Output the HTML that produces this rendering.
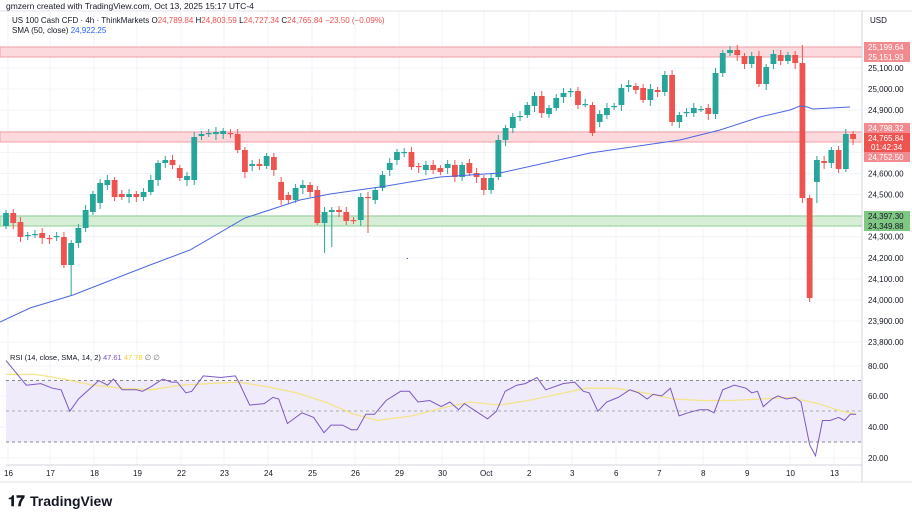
<!DOCTYPE html>
<html><head><meta charset="utf-8"><style>
html,body{margin:0;padding:0;background:#fff;width:912px;height:513px;overflow:hidden}
svg text{font-family:"Liberation Sans",sans-serif}
</style></head><body>
<svg id="s" width="912" height="513" xmlns="http://www.w3.org/2000/svg">
<rect width="912" height="513" fill="#fff"/>
<text x="6" y="9" font-size="8.5" fill="#131722">gmzern created with TradingView.com, Oct 13, 2025 15:17 UTC-4</text>
<g id="grid"></g>
<rect x="0" y="47" width="862" height="10" fill="#fbd9dc" stroke="#f0a0a6" stroke-width="1"/>
<rect x="0" y="132" width="862" height="10" fill="#fbd9dc" stroke="#f0a0a6" stroke-width="1"/>
<rect x="0" y="216" width="862" height="10" fill="#d6eed6" stroke="#8fcf94" stroke-width="1"/>
<g id="candles"></g>
<polyline id="sma" fill="none" stroke="#4b67e0" stroke-width="1"/>
<text x="406" y="259" font-size="9" fill="#131722">.</text>
<rect x="6" y="380.5" width="856" height="61.5" fill="#efebfb"/>
<line x1="6" x2="862" y1="380.5" y2="380.5" stroke="#888" stroke-dasharray="3,3"/>
<line x1="6" x2="862" y1="411" y2="411" stroke="#aaa" stroke-dasharray="3,3"/>
<line x1="6" x2="862" y1="442" y2="442" stroke="#888" stroke-dasharray="3,3"/>
<polyline id="rsisma" fill="none" stroke="#f5e48a" stroke-width="1.3"/>
<polyline id="rsi" fill="none" stroke="#7e57c2" stroke-width="1"/>
<line x1="862" x2="862" y1="11" y2="482" stroke="#d1d4dc"/>
<line x1="0" x2="912" y1="11" y2="11" stroke="#e0e3eb"/>
<line x1="6" x2="862" y1="465" y2="465" stroke="#d1d4dc"/>
<line x1="0" x2="912" y1="482" y2="482" stroke="#e0e3eb"/>
<text x="12" y="23" font-size="8" fill="#131722">US 100 Cash CFD · 4h · ThinkMarkets <tspan fill="#131722">O</tspan><tspan fill="#ef5350">24,789.84</tspan> H<tspan fill="#ef5350">24,803.59</tspan> L<tspan fill="#ef5350">24,727.34</tspan> C<tspan fill="#ef5350">24,765.84</tspan> <tspan fill="#ef5350">−23.50 (−0.09%)</tspan></text>
<text x="12" y="33" font-size="8" fill="#131722">SMA (50, close) <tspan fill="#2962ff">24,922.25</tspan></text>
<text x="10" y="360" font-size="7.5" fill="#131722">RSI (14, close, SMA, 14, 2) <tspan fill="#7e57c2">47.61</tspan> <tspan fill="#f2d43a">47.78</tspan> <tspan fill="#777">∅ ∅</tspan></text>
<text x="870" y="23" font-size="8" fill="#131722">USD</text>
<g id="axis" font-size="8" fill="#131722"></g>
<g id="dates" font-size="8" fill="#131722"></g>
<text x="8" y="506" font-size="15" font-weight="bold" fill="#131722">𝟏𝟕</text>
<text x="30" y="506" font-size="14" font-weight="bold" fill="#131722">TradingView</text>
</svg>
<script>
var NS="http://www.w3.org/2000/svg";
function el(t,a,p){var e=document.createElementNS(NS,t);for(var k in a)e.setAttribute(k,a[k]);(p||document.getElementById('s')).appendChild(e);return e;}
var yp=function(p){return 68+(25100-p)*0.2109;};
var grid=document.getElementById('grid');
var dx=[8,50,94,137,181,224,268,312,355,399,442,484,529,572,616,659,703,747,790,834];
var dl=["16","17","18","19","22","23","24","25","26","29","30","Oct","2","3","6","7","8","9","10","13"];
dx.forEach(function(x){el('line',{x1:x,x2:x,y1:11,y2:465,stroke:'#f0f3fa'},grid);});
for(var p=25200;p>=23800;p-=100){var y=yp(p);el('line',{x1:0,x2:862,y1:y,y2:y,stroke:'#f0f3fa'},grid);}
[366,396,427,458].forEach(function(y){el('line',{x1:0,x2:862,y1:y,y2:y,stroke:'#f0f3fa'},grid);});
var ax=document.getElementById('axis');
[25100,25000,24900,24600,24500,24300,24200,24100,24000,23900,23800].forEach(function(p){var t=el('text',{x:868,y:yp(p)+3},ax);t.textContent=p.toLocaleString('en-US')+'.00';});
[[80,366],[60,396],[40,427],[20,458]].forEach(function(a){var t=el('text',{x:868,y:a[1]+3},ax);t.textContent=a[0]+'.00';});
function tag(y,h,txt,bg,col){el('rect',{x:864,y:y-h/2,width:46,height:h,fill:bg},ax);var t=el('text',{x:868,y:y+3,fill:col||'#fff'},ax);t.textContent=txt;}
tag(47,10,'25,199.64','#f28b8f');tag(57,10,'25,151.93','#f28b8f');
tag(128,10,'24,798.32','#f28b8f');
el('rect',{x:864,y:133,width:46,height:20,fill:'#ef5350'},ax);
var t1=el('text',{x:868,y:141,fill:'#fff'},ax);t1.textContent='24,765.84';
var t2=el('text',{x:871,y:150,fill:'#fff'},ax);t2.textContent='01:42:34';
tag(157,10,'24,752.50','#f28b8f');
tag(216,10,'24,397.30','#81c784','#131722');tag(226,10,'24,349.88','#81c784','#131722');
var dg=document.getElementById('dates');
dx.forEach(function(x,i){var t=el('text',{x:x-(dl[i].length>1?4:2),y:476},dg);t.textContent=dl[i];});
var C=[[226,213],[213,223],[222,237],[236,235],[235,234],[233,238],[238,239],[237,236],[237,265],[265,243],[243,228],[228,210],[212,194],[203,183],[185,180],[180,197],[194,197],[197,194],[194,197],[197,192],[192,180],[180,163],[163,160],[160,165],[168,178],[180,176],[180,137],[136,134],[134,133],[134,132],[134,131],[133,134],[134,150],[150,172],[166,164],[164,166],[166,156],[157,170],[182,200],[195,200],[200,188],[188,185],[185,192],[190,223],[223,212],[212,210],[210,212],[212,221],[220,221],[220,197],[197,198],[200,190],[188,175],[170,163],[160,152],[153,152],[152,167],[166,167],[170,165],[165,170],
[168,172],[168,164],[165,177],[177,165],[163,173],[173,177],[178,190],[190,178],[177,140],[140,128],[128,117],[117,116],[115,105],[106,96],[96,113],[114,108],[108,98],[97,93],[92,91],[91,105],[104,104],[105,133],[122,114],[115,108],[107,106],[105,88],[87,85],[86,90],[88,100],[100,89],[90,92],[92,75],[75,122],[122,115],[112,112],[113,108],[109,109],[108,114],[114,73],[73,53],[53,50],[50,55],[56,64],[64,56],[56,84],[84,67],[64,54],[55,61],[61,55],[55,63],[63,198],[198,298],[182,160],[161,163],[163,150],[150,169],[169,134],[134,139]];
var W={9:[0,295],44:[0,253],45:[0,247],50:[0,233],110:[45,0],112:[0,203],43:[0,225],92:[0,126],81:[0,136]};
var cg=document.getElementById('candles');
C.forEach(function(c,i){var x=6+i*7.24;var up=c[1]<=c[0];var col=up?'#26a69a':'#ef5350';
var top=Math.min(c[0],c[1]),bot=Math.max(c[0],c[1]);var wt=top-3-(i%3),wb=bot+3+((i*7)%4);
if(W[i]){if(W[i][0])wt=W[i][0];if(W[i][1])wb=W[i][1];}
el('line',{x1:x,x2:x,y1:wt,y2:wb,stroke:col,'stroke-width':1},cg);
el('rect',{x:x-2.9,y:top,width:5.8,height:Math.max(1.2,bot-top),fill:col},cg);});
document.getElementById('sma').setAttribute('points',"0,322 30,308 73,295 150,265 190,250 245,218 300,200 330,194 380,187 440,177 500,173 590,153 680,140 720,130 760,117 790,110 800,106 807,107 813,109 850,107");
var ry=function(v){return 488-1.535*v;};
var R=[[0,83],[35,67],[60,68],[80,65],[95,64],[110,50],[125,58],[160,70],[175,67],[185,71],[200,64],[225,64],[235,63],[250,66],[270,71],[285,69],[295,69],[310,62],[320,63],[340,73],[370,72],[395,73],[400,70],[420,54],[445,55],[460,59],[470,58],[485,42],[510,49],[530,46],[548,36],[560,41],[580,41],[595,38],[605,38],[620,48],[635,48],[655,57],[680,63],[695,63],[710,56],[730,57],[750,53],[765,56],[780,51],[790,55],[810,50],[830,45],[845,50],[860,63],[880,67],[895,68],[915,72],[930,64],[960,68],[980,69],[995,63],[1005,62],[1020,50],[1035,56],[1055,59],[1075,64],[1090,62],[1105,58],[1115,61],[1130,60],[1145,65],[1160,47],[1175,49],[1195,51],[1210,51],[1220,49],[1235,64],[1255,67],[1275,65],[1285,62],[1295,63],[1305,53],[1320,58],[1330,60],[1345,58],[1360,59],[1370,56],[1385,28],[1395,21],[1407,44],[1420,44],[1435,46],[1445,44],[1455,48],[1465,48]];
var S=[[0,74],[50,74],[100,71],[150,67],[200,65],[250,64],[300,67],[350,68],[400,69],[450,66],[500,62],[550,56],[600,48],[640,44],[700,47],[750,52],[800,56],[850,54],[900,57],[950,61],[1000,65],[1050,65],[1100,62],[1150,58],[1200,57],[1250,57],[1300,58],[1350,59],[1400,55],[1440,50],[1465,48]];
function pts(a){return a.map(function(p){return (6+p[0]*0.5803).toFixed(1)+','+ry(p[1]).toFixed(1);}).join(' ');}
document.getElementById('rsi').setAttribute('points',pts(R));
document.getElementById('rsisma').setAttribute('points',pts(S));
</script>
</body></html>
